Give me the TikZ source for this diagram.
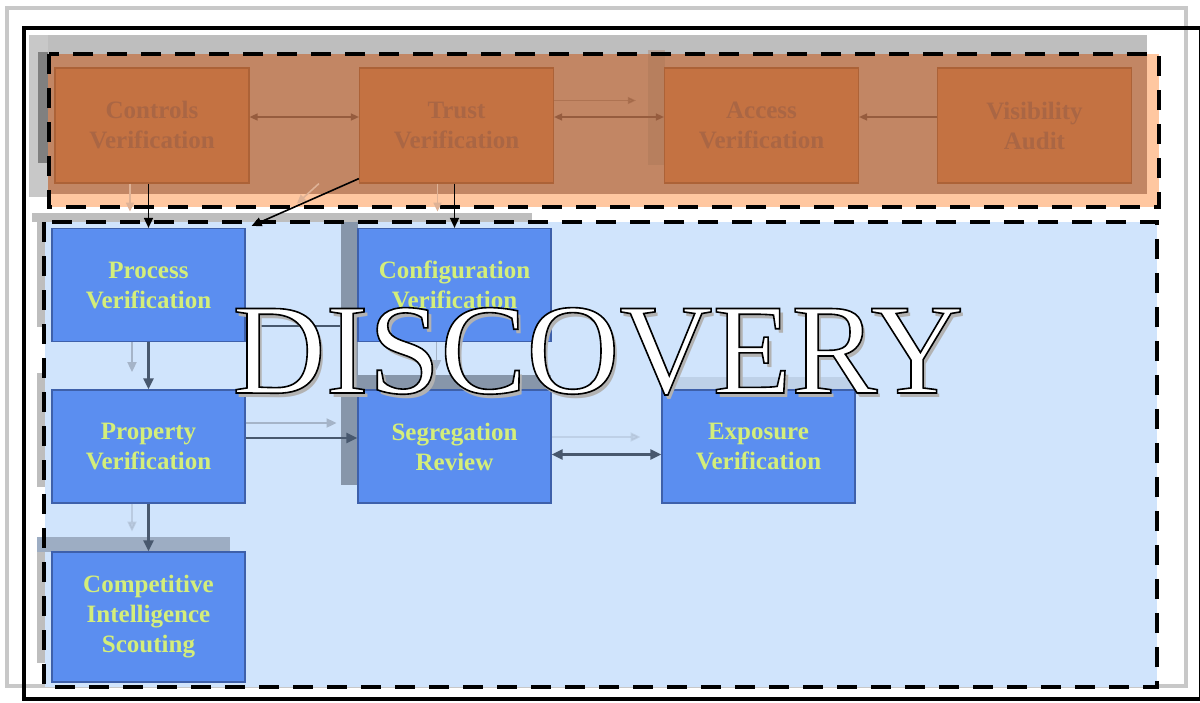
\documentclass[tikz,border=0pt]{standalone}
\usepackage{fontspec}
\setmainfont{Liberation Serif}
\usetikzlibrary{arrows.meta,calc}

\definecolor{frameGray}{RGB}{200,200,200}
\definecolor{bandGray}{RGB}{190,190,190}
\definecolor{stripGray}{RGB}{128,128,128}
\definecolor{peach}{RGB}{255,199,160}
\definecolor{rust}{RGB}{194,134,100}
\definecolor{orangeBox}{RGB}{196,114,66}
\definecolor{orangeEdge}{RGB}{172,98,55}
\definecolor{orangeText}{RGB}{170,102,68}
\definecolor{brownLine}{RGB}{150,92,62}
\definecolor{skyFill}{RGB}{208,228,252}
\definecolor{blueBox}{RGB}{91,142,240}
\definecolor{blueEdge}{RGB}{62,96,170}
\definecolor{limeText}{RGB}{212,238,122}
\definecolor{slateLine}{RGB}{72,88,110}
\definecolor{slateShadow}{RGB}{135,150,170}
\definecolor{ghostLine}{RGB}{165,180,200}
\definecolor{ghostWarm}{RGB}{222,178,150}

% white letters with a black stroked edge (fill + stroke text render mode)
\newcommand{\edgedword}[1]{%
  \special{pdf:literal direct 0 0 0 RG 1.6 w 2 Tr}#1\special{pdf:literal direct 0 Tr}}

\tikzset{
  obox/.style={draw=orangeEdge, fill=orangeBox, line width=1.2pt,
    minimum width=194pt, minimum height=115pt, inner sep=0pt, align=center,
    text=orangeText, font=\bfseries\fontsize{25}{30}\selectfont},
  bbox/.style={draw=blueEdge, fill=blueBox, line width=1.2pt,
    minimum width=193pt, minimum height=113pt, inner sep=0pt, align=center,
    text=limeText, font=\bfseries\fontsize{25}{30}\selectfont},
  zone/.style={draw=black, line width=4.5pt, dash pattern=on 20pt off 14pt},
  brline/.style={draw=brownLine, line width=1.5pt},
  brboth/.style={brline, {Triangle[length=8pt,width=7pt]}-{Triangle[length=8pt,width=7pt]}},
  brone/.style={brline, -{Triangle[length=8pt,width=7pt]}},
  blkarrow/.style={draw=black, line width=1.6pt, -{Triangle[length=10pt,width=9pt]}},
  slline/.style={draw=slateLine, line width=2.4pt},
  slarrow/.style={slline, -{Triangle[length=11pt,width=10pt]}},
  slboth/.style={slline, {Triangle[length=11pt,width=10pt]}-{Triangle[length=11pt,width=10pt]}},
  ghost/.style={draw=ghostLine, line width=1.8pt, -{Triangle[length=10pt,width=9pt]}},
  warmghost/.style={draw=ghostWarm, line width=1.6pt, -{Triangle[length=9pt,width=8pt]}},
  bigword/.style={font=\fontsize{129}{129}\selectfont, anchor=base, inner sep=0pt},
}

\begin{document}
\begin{tikzpicture}[x=1pt,y=-1pt]
  % canvas
  \fill[white] (0,0) rectangle (1200,702);
  \useasboundingbox (0,0) rectangle (1200,702);

  % outer frames
  \draw[frameGray, line width=3.5pt] (7,8) rectangle (1186,686);
  \draw[black, line width=3.5pt] (24,28) rectangle (1201,699);

  % grey bands behind the upper zone
  \fill[bandGray] (29,35) rectangle (1147,54);
  \fill[frameGray] (29,35) rectangle (48,197);
  \fill[stripGray] (38,52) rectangle (48,163);

  % upper zone fills
  \fill[peach] (48,54) rectangle (1159,207);
  \fill[rust] (48,54) rectangle (1147,194);
  \fill[rust!85!black, opacity=0.35] (648,50) rectangle (665,165);

  % lower zone fills
  \fill[bandGray] (32,213) rectangle (532,222);
  \fill[bandGray] (37,213) rectangle (47,327);
  \fill[bandGray] (37,373) rectangle (47,487);
  \fill[bandGray] (37,537) rectangle (47,663);
  \fill[skyFill] (45,222) rectangle (1157,687);
  \fill[slateShadow] (341,222) rectangle (358,485);
  \fill[slateShadow] (358,375) rectangle (551,390);
  \fill[slateShadow!70!skyFill] (37,537) rectangle (230,552);
  \fill[slateShadow!25!skyFill] (662,377) rectangle (855,390);

  % upper boxes
  \node[obox] (ctrl)   at (152,125.5)  {Controls\\Verification};
  \node[obox] (trust)  at (456.5,125.5) {Trust\\Verification};
  \node[obox] (access) at (761.5,125.5) {Access\\Verification};
  \node[obox] (vis)    at (1034.5,125.5) {Visibility\\Audit};

  % lower boxes
  \node[bbox] (proc) at (148.5,285)   {Process\\Verification};
  \node[bbox] (conf) at (454.5,285)   {Configuration\\Verification};
  \node[bbox] (prop) at (148.5,446.5) {Property\\Verification};
  \node[bbox] (seg)  at (454.5,446.5) {Segregation\\Review};
  \node[bbox] (expo) at (758.5,446.5) {Exposure\\Verification};
  \node[bbox, minimum height=130pt] (comp) at (148.5,617) {Competitive\\Intelligence\\Scouting};

  % dashed zone outlines
  \draw[zone] (49,54) rectangle (1159,207);
  \draw[zone] (44,222) rectangle (1157,687);

  % links inside the upper zone
  \draw[brboth] ([yshift=8.5pt]ctrl.east) -- ([yshift=8.5pt]trust.west);
  \draw[brboth] ([yshift=8.5pt]trust.east) -- ([yshift=8.5pt]access.west);
  \draw[brone, opacity=0.45] ([yshift=25pt]trust.east) -- ([yshift=25pt,xshift=-28pt]access.west);
  \draw[brone] ([yshift=8.5pt]vis.west) -- ([yshift=8.5pt]access.east);

  % faint traces between the zones
  \draw[warmghost] ([xshift=-22pt]ctrl.south) -- ++(0,28);
  \draw[warmghost] ([xshift=-19pt]trust.south) -- ++(0,28);
  \draw[warmghost] ([xshift=-40pt]trust.south west) -- ++(-22,20);

  % links from the upper zone down
  \draw[blkarrow] (proc.north |- ctrl.south) -- (proc.north);
  \draw[blkarrow] ([yshift=5pt]trust.south west) -- ([xshift=6pt,yshift=2pt]proc.north east);
  \draw[blkarrow] (conf.north |- trust.south) -- (conf.north);

  % faint traces in the lower zone
  \draw[ghost] ([xshift=-16.5pt]proc.south) -- ++(0,30);
  \draw[ghost] ([yshift=23.5pt]prop.east) -- ++(91,0);
  \draw[ghost] ([xshift=-18pt]conf.south) -- ++(0,28);
  \draw[ghost, opacity=0.4] ([yshift=9.5pt]seg.east) -- ++(89,0);
  \draw[ghost, opacity=0.5] ([xshift=-16.5pt]prop.south) -- ++(0,28);

  % links in the lower zone
  \draw[slline] ([yshift=-41pt]proc.east) -- ([yshift=-41pt,xshift=-17pt]conf.west);
  \draw[slarrow] (proc.south) -- (prop.north);
  \draw[slarrow] ([yshift=8.5pt]prop.east) -- ([yshift=8.5pt]seg.west);
  \draw[slboth] ([yshift=-8pt]seg.east) -- ([yshift=-8pt]expo.west);
  \draw[slarrow] (prop.south) -- (comp.north);

  % outlined title with drop shadow
  \node[bigword, text=black!30] (titleshadow) at (601.5,397) {DISCOVERY};
  \node[bigword, text=white] (title) at (598,393) {\edgedword{DISCOVERY}};
\end{tikzpicture}
\end{document}
